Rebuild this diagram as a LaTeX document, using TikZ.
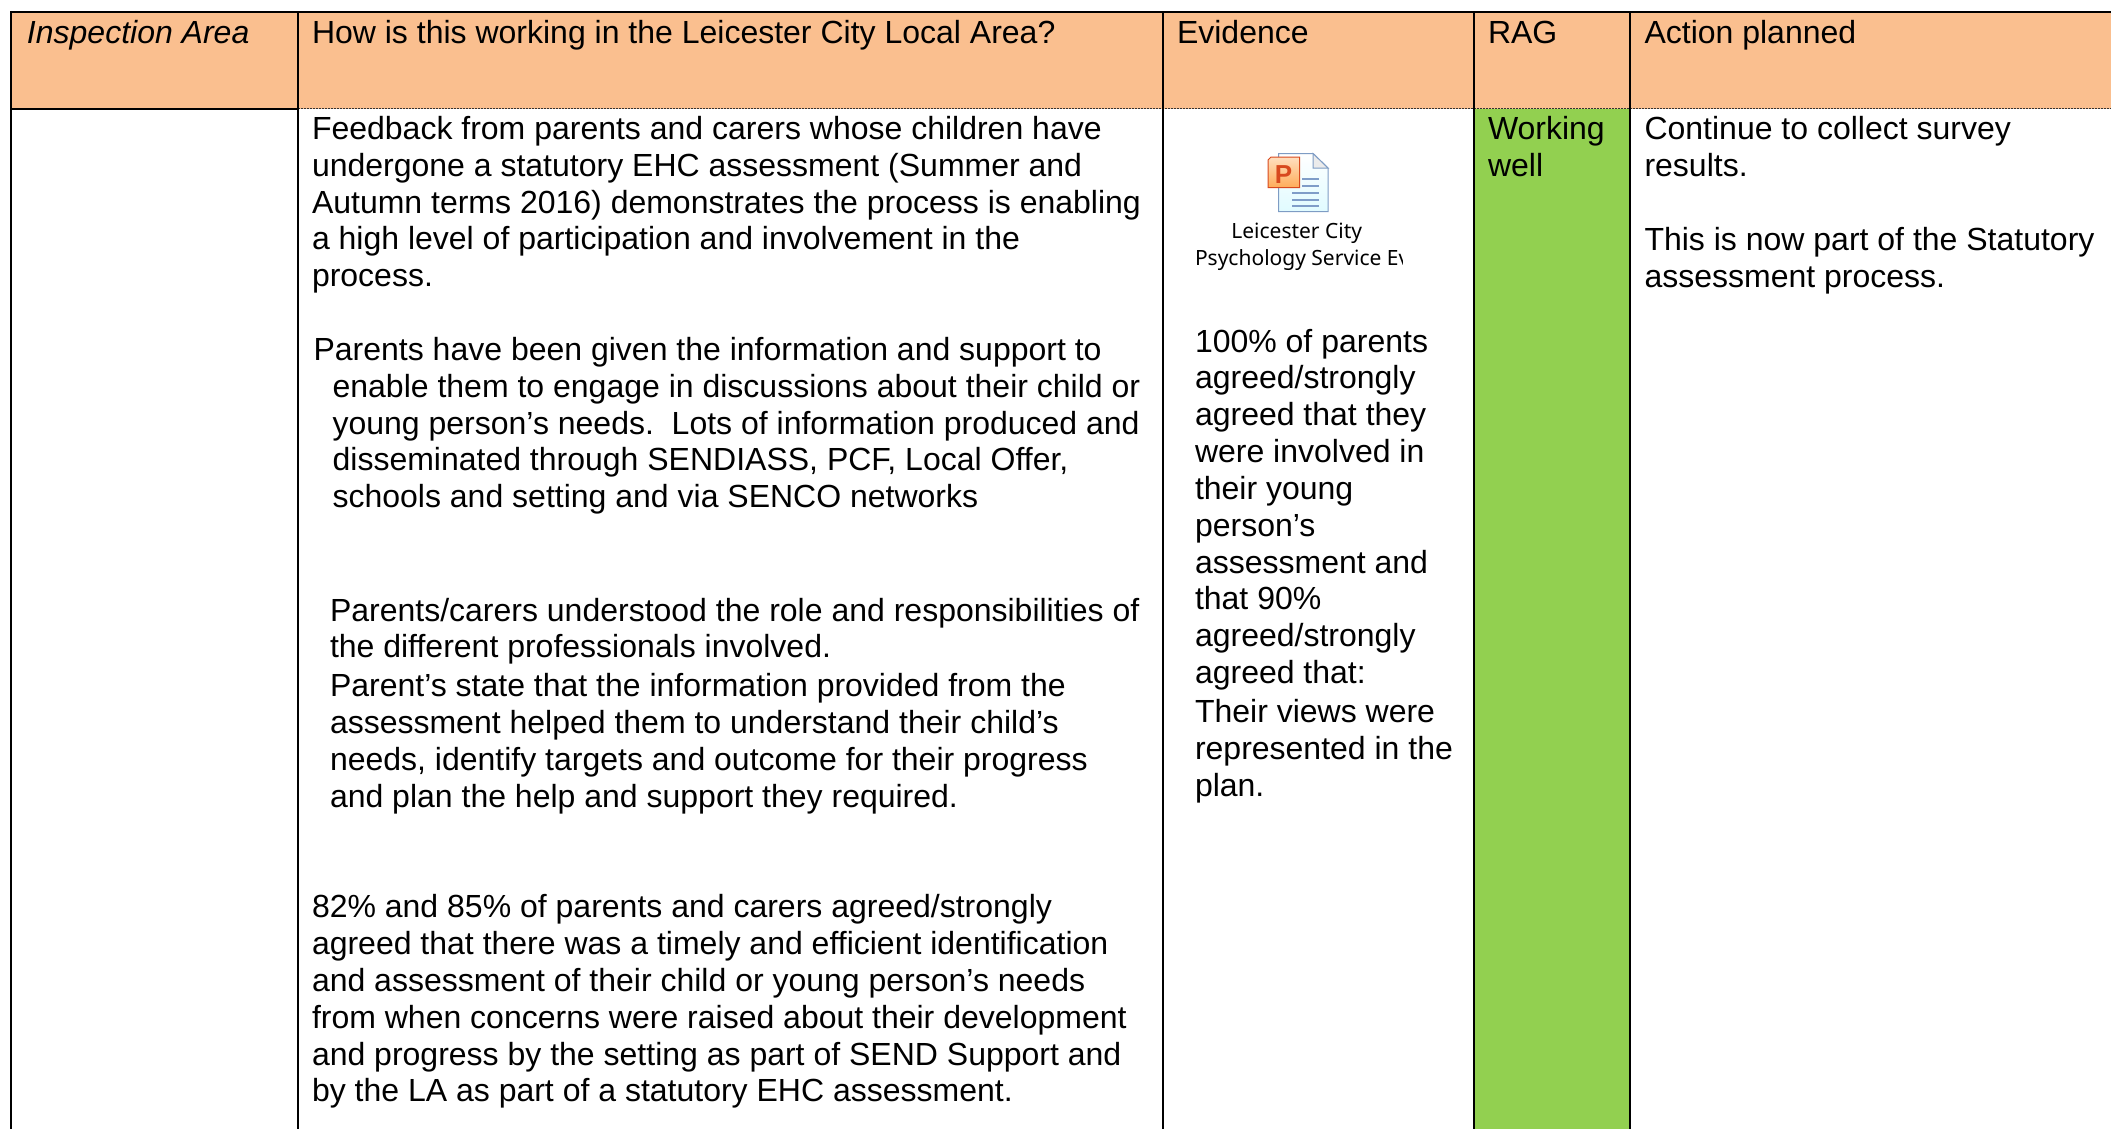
\documentclass[tikz,border=0pt]{standalone}
\usepackage{fontspec}
\setmainfont{Liberation Sans}
\newfontfamily\iconfont{Noto Sans}
\definecolor{headfill}{HTML}{FABF8F}
\definecolor{ragfill}{HTML}{92D050}
\definecolor{docline}{HTML}{7F9DC8}
\definecolor{docedge}{HTML}{7E9CC4}
\definecolor{pedge}{HTML}{D8491E}
\newcommand{\tb}[4]{\node[txt] (#1) at (#2+1,#3-29) {\rule{0pt}{30pt}#4};}
\tikzset{
  x=1pt,y=-1pt,
  txt/.style={anchor=north west,inner sep=0pt,outer sep=0pt,align=left,text=black,
    font=\fontsize{32}{36.85}\selectfont},
  rule/.style={draw=black,line width=2pt},
  softrule/.style={draw=black!80,line width=1pt,dash pattern=on 2pt off 1pt},
  icontext/.style={inner sep=0pt,outer sep=0pt,font=\iconfont\fontsize{21}{27}\selectfont},
}
\begin{document}
\begin{tikzpicture}
\useasboundingbox (0,0) rectangle (2111,1129);
% fills
\fill[headfill] (11,12) rectangle (2111,108.7);
\fill[ragfill] (1474,108.7) rectangle (1630,1129);
% rules
\draw[softrule] (298,108.7) -- (2111,108.7);
\draw[rule] (11,108.7) -- (298,108.7);
\draw[rule] (10,12) -- (2111,12);
\draw[rule] (11,11) -- (11,1129);
\draw[rule] (298,12) -- (298,1129);
\draw[rule] (1163,12) -- (1163,1129);
\draw[rule] (1474,12) -- (1474,1129);
\draw[rule] (1630,12) -- (1630,1129);
% header
\tb{h1}{26}{42.3}{\itshape Inspection Area}
\tb{h2}{311}{42.3}{How is this working in the Leicester City Local Area?}
\tb{h3}{1176}{42.3}{Evidence}
\tb{h4}{1487}{42.3}{RAG}
\tb{h5}{1643.5}{42.3}{Action planned}
% column 2
\tb{a1}{311}{138.3}{Feedback from parents and carers whose children have\\undergone a statutory EHC assessment (Summer and\\Autumn terms 2016) demonstrates the process is enabling\\a high level of participation and involvement in the\\process.}
\tb{a2}{312.6}{359.3}{Parents have been given the information and support to\\\hspace*{19pt}enable them to engage in discussions about their child or\\\hspace*{19pt}young person’s needs.\ \ Lots of information produced and\\\hspace*{19pt}disseminated through SENDIASS, PCF, Local Offer,\\\hspace*{19pt}schools and setting and via SENCO networks}
\tb{a3}{329}{620}{Parents/carers understood the role and responsibilities of\\the different professionals involved.}
\tb{a4}{329}{695.7}{Parent’s state that the information provided from the\\assessment helped them to understand their child’s\\needs, identify targets and outcome for their progress\\and plan the help and support they required.}
\tb{a5}{311}{916.7}{82\% and 85\% of parents and carers agreed/strongly\\agreed that there was a timely and efficient identification\\and assessment of their child or young person’s needs\\from when concerns were raised about their development\\and progress by the setting as part of SEND Support and\\by the LA as part of a statutory EHC assessment.}
% column 3
\tb{e1}{1194}{351}{100\% of parents\\agreed/strongly\\agreed that they\\were involved in\\their young\\person’s\\assessment and\\that 90\%\\agreed/strongly\\agreed that:}
\tb{e2}{1194}{721.7}{Their views were\\represented in the\\plan.}
% column 4
\tb{r1}{1487}{138.3}{Working\\well}
% column 5
\tb{p1}{1643.5}{138.3}{Continue to collect survey\\results.}
\tb{p2}{1643.5}{249.3}{This is now part of the Statutory\\assessment process.}
% embedded file icon
\draw[docedge,line width=1pt,top color=white,bottom color=blue!12!cyan!12]
  (1278.5,153.5) -- (1313,153.5) -- (1328,168) -- (1328,211.5) -- (1278.5,211.5) -- cycle;
\draw[docedge,line width=1pt,fill=black!8] (1313,153.5) -- (1313,168) -- (1328,168) -- cycle;
\foreach \ly/\lx in {179/1302,186/1302,193/1292,200/1292,206/1292}
  \draw[docline,line width=1.3pt] (\lx,\ly) -- (1319,\ly);
\draw[pedge,line width=1pt,top color=orange!25,bottom color=orange!65]
  (1268,160) -- (1271,157) -- (1299.5,157) -- (1299.5,187.5) -- (1268,187.5) -- cycle;
\node[inner sep=0pt,outer sep=0pt,anchor=base,text={pedge},font=\bfseries\fontsize{26}{26}\selectfont] (picon) at (1283.5,183) {P};
\begin{scope}
\clip (1180,220) rectangle (1402,280);
\node[icontext,anchor=base] (i1) at (1296.7,238.3) {Leicester City};
\node[icontext,anchor=base west] (i2) at (1195,265) {Psychology Service Evidence};
\end{scope}
\end{tikzpicture}
\end{document}
